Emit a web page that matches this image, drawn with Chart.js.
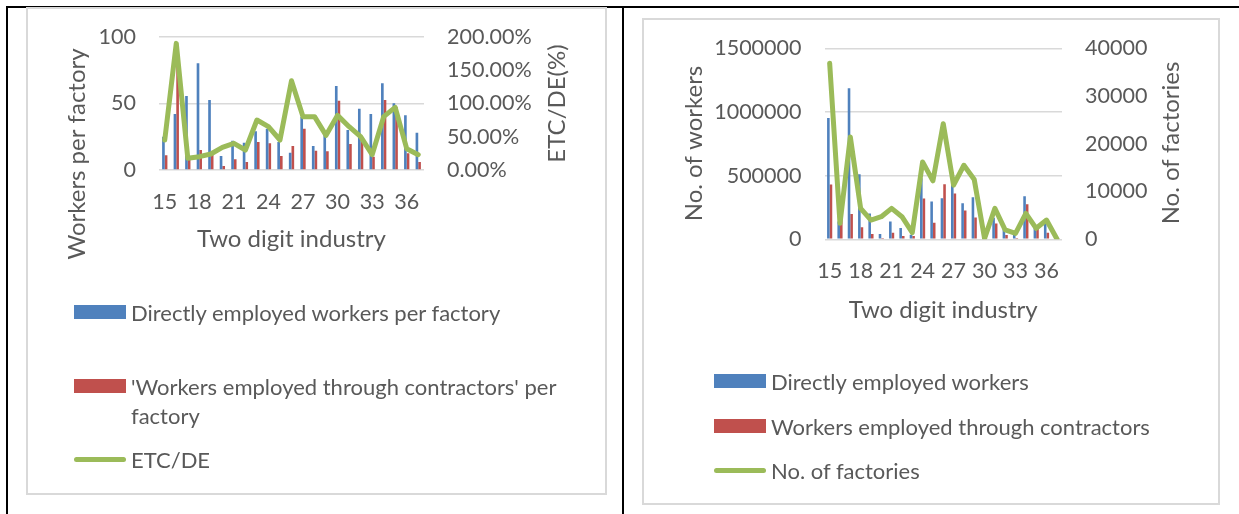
<!DOCTYPE html>
<html>
<head>
<meta charset="utf-8">
<title>Workers and factories by two digit industry</title>
<script src="https://cdn.jsdelivr.net/npm/chart.js@4.4.1/dist/chart.umd.min.js"></script>
<style>
  body { margin: 0; background: #fff; width: 1239px; height: 514px; overflow: hidden; position: relative; font-family: Lato, sans-serif; }
  .rule { position: absolute; background: #000; }
  .panel { position: absolute; border: 2px solid #d9d9d9; box-sizing: border-box; }
  .panel canvas { position: absolute; left: 0; top: 0; }
  .legend { position: absolute; left: 0; top: 0; width: 520px; }
  .item { position: absolute; left: 0; right: 0; display: flex; align-items: flex-start; line-height: 29px; font-size: 22px; color: #595959; }
  .sw { flex: none; width: 52px; height: 14px; margin-top: 7.5px; margin-right: 5px; }
  .sw.line { height: 5px; border-radius: 3px; margin-top: 12px; }
</style>
</head>
<body>
<div class="rule" style="left:6px;top:6px;width:1233px;height:2px"></div>
<div class="rule" style="left:6px;top:6px;width:2px;height:508px"></div>
<div class="rule" style="left:622px;top:6px;width:2px;height:508px"></div>

<div class="panel" style="left:26px;top:7px;width:581px;height:488px">
  <canvas id="perFactory" width="577" height="484"></canvas>
  <div class="legend" id="legendLeft"></div>
</div>
<div class="panel" style="left:642px;top:18px;width:578px;height:487px">
  <canvas id="totals" width="574" height="483"></canvas>
  <div class="legend" id="legendRight"></div>
</div>

<script>
// two digit industry codes
const industries = ['15','16','17','18','19','20','21','22','23','24','25','26','27','28','29','30','31','32','33','34','35','36','37'];
const shownTicks = ['15','18','21','24','27','30','33','36'];

// left chart: per factory
const directPerFactory   = [25, 42, 55.5, 80, 52.5, 10.5, 22, 20.5, 29, 31, 21, 13, 40, 18, 27, 63, 30, 46, 42, 65, 50, 41, 28];
const contractPerFactory = [11, 80, 9, 15, 12, 3, 8, 6, 21, 20, 10.5, 18, 31, 14.5, 14, 52, 19.5, 23, 10, 52.5, 47, 12.5, 6];
const etcRatio           = [45, 190, 17.5, 20, 24, 34, 40, 30, 75, 65, 45, 134, 80, 80, 52, 82, 65, 50, 23, 80, 94, 32, 23];
const perFactoryTicks = [0, 50, 100];
const ratioTicks = [0, 50, 100, 150, 200];

// right chart: totals
const directWorkers   = [953000, 140000, 1187000, 510000, 203000, 42000, 140000, 88000, 35000, 480000, 297000, 323000, 450000, 284000, 331000, 19000, 170000, 80000, 45000, 339000, 110000, 125000, 5000];
const contractWorkers = [430000, 260000, 198000, 94000, 42000, 10000, 52000, 26000, 26000, 320000, 130000, 432000, 360000, 227000, 172000, 10000, 125000, 34000, 10000, 276000, 90000, 52000, 2000];
const factoryCount    = [36870, 3340, 21430, 6470, 4030, 4730, 6470, 4730, 1390, 16210, 12240, 24210, 11340, 15510, 12520, 200, 6470, 1950, 1250, 5430, 2300, 4030, 100];
const workerTicks = [0, 500000, 1000000, 1500000];
const factoryTicks = [0, 10000, 20000, 30000, 40000];

const BLUE = '#4f81bd', RED = '#c0504d', GREEN = '#9bbb59';
const GRID = '#d9d9d9', TEXT = '#595959';
const tickFont = { family: 'Lato', size: 21.5 };
const titleFont = { family: 'Lato', size: 24 };

// vertical axis titles, read bottom to top on both sides
const sideTitles = {
  id: 'sideTitles',
  afterDraw(chart, args, opts) {
    const ctx = chart.ctx;
    ctx.save();
    ctx.font = titleFont.size + 'px ' + titleFont.family;
    ctx.fillStyle = TEXT;
    ctx.textAlign = 'center';
    ctx.textBaseline = 'middle';
    opts.items.forEach(t => {
      ctx.save();
      ctx.translate(t.x, t.y);
      ctx.rotate(-Math.PI / 2);
      ctx.fillText(t.text, 0, 0);
      ctx.restore();
    });
    ctx.restore();
  }
};

// fixed axis sizes so the plot area lands where the original one is
function fixWidth(w) {
  return s => { s.width = w; s.paddingTop = 0; s.paddingBottom = 0; };
}

function makeChart(id, lay, series, leftAxis, rightAxis, xTitle, titles) {
  const ctx = document.getElementById(id).getContext('2d');
  return new Chart(ctx, {
    type: 'bar',
    data: {
      labels: industries,
      datasets: [
        { label: series[0].label, data: series[0].data, backgroundColor: BLUE, borderWidth: 0, yAxisID: 'y', order: 1 },
        { label: series[1].label, data: series[1].data, backgroundColor: RED, borderWidth: 0, yAxisID: 'y', order: 1 },
        { type: 'line', label: series[2].label, data: series[2].data, borderColor: GREEN, backgroundColor: GREEN,
          borderWidth: 5, pointRadius: 0, tension: 0, borderJoinStyle: 'round', borderCapStyle: 'round', yAxisID: 'y1', order: 0 }
      ]
    },
    plugins: [sideTitles],
    options: {
      responsive: false,
      animation: false,
      events: [],
      layout: { padding: { left: 0, right: 0, top: lay.top, bottom: lay.bottom } },
      datasets: { bar: { categoryPercentage: lay.catPct, barPercentage: 1 } },
      plugins: {
        legend: { display: false },
        tooltip: { enabled: false },
        sideTitles: { items: titles }
      },
      scales: {
        x: {
          grid: { display: false, drawTicks: false },
          border: { display: false },
          ticks: {
            autoSkip: false, maxRotation: 0, padding: lay.xPad, color: TEXT, font: tickFont,
            callback: function(v) { const l = this.getLabelForValue(v); return shownTicks.includes(l) ? l : ''; }
          },
          title: { display: true, text: xTitle, color: TEXT, font: titleFont, padding: { top: 0, bottom: lay.xTitlePad } },
          afterFit: s => { s.height = 100; s.paddingLeft = 0; s.paddingRight = 0; }
        },
        y: {
          position: 'left',
          min: leftAxis.ticks[0], max: leftAxis.ticks[leftAxis.ticks.length - 1],
          afterBuildTicks: s => { s.ticks = leftAxis.ticks.map(v => ({ value: v })); },
          grid: { color: GRID, lineWidth: 1.5, drawTicks: false },
          border: { display: false },
          ticks: { padding: 23, color: TEXT, font: tickFont, callback: leftAxis.fmt },
          afterFit: fixWidth(lay.left)
        },
        y1: {
          position: 'right',
          min: rightAxis.ticks[0], max: rightAxis.ticks[rightAxis.ticks.length - 1],
          afterBuildTicks: s => { s.ticks = rightAxis.ticks.map(v => ({ value: v })); },
          grid: { display: false, drawTicks: false },
          border: { display: false },
          ticks: { padding: 23, color: TEXT, font: tickFont, callback: rightAxis.fmt },
          afterFit: fixWidth(lay.right)
        }
      }
    }
  });
}

function buildLegend(chart, el, left, rows, maxW) {
  el.style.left = left + 'px';
  chart.data.datasets.forEach((ds, i) => {
    const item = document.createElement('div');
    item.className = 'item';
    item.style.top = rows[i] + 'px';
    const sw = document.createElement('span');
    sw.className = ds.type === 'line' ? 'sw line' : 'sw';
    sw.style.background = ds.type === 'line' ? ds.borderColor : ds.backgroundColor;
    const tx = document.createElement('span');
    tx.textContent = ds.label;
    tx.style.maxWidth = maxW + 'px';
    item.append(sw, tx);
    el.appendChild(item);
  });
}

const leftChart = makeChart('perFactory',
  { top: 27.7, bottom: 223, left: 131, right: 181, catPct: 0.46, xPad: 19, xTitlePad: 16 },
  [
    { label: 'Directly employed workers per factory', data: directPerFactory },
    { label: "'Workers employed through contractors' per factory", data: contractPerFactory },
    { label: 'ETC/DE', data: etcRatio }
  ],
  { ticks: perFactoryTicks, fmt: v => String(v) },
  { ticks: ratioTicks, fmt: v => v.toFixed(2) + '%' },
  'Two digit industry',
  [ { text: 'Workers per factory', x: 49, y: 145 }, { text: 'ETC/DE(%)', x: 529, y: 94.5 } ]
);

const rightChart = makeChart('totals',
  { top: 28.3, bottom: 163.7, left: 180.5, right: 156, catPct: 0.5, xPad: 19, xTitlePad: 15 },
  [
    { label: 'Directly employed workers', data: directWorkers },
    { label: 'Workers employed through contractors', data: contractWorkers },
    { label: 'No. of factories', data: factoryCount }
  ],
  { ticks: workerTicks, fmt: v => String(v) },
  { ticks: factoryTicks, fmt: v => String(v) },
  'Two digit industry',
  [ { text: 'No. of workers', x: 50, y: 123.5 }, { text: 'No. of factories', x: 527, y: 123 } ]
);

buildLegend(leftChart, document.getElementById('legendLeft'), 46, [288.5, 362.5, 435.5], 450);
buildLegend(rightChart, document.getElementById('legendRight'), 70, [346.5, 391.5, 435.5], 480);
</script>
</body>
</html>
